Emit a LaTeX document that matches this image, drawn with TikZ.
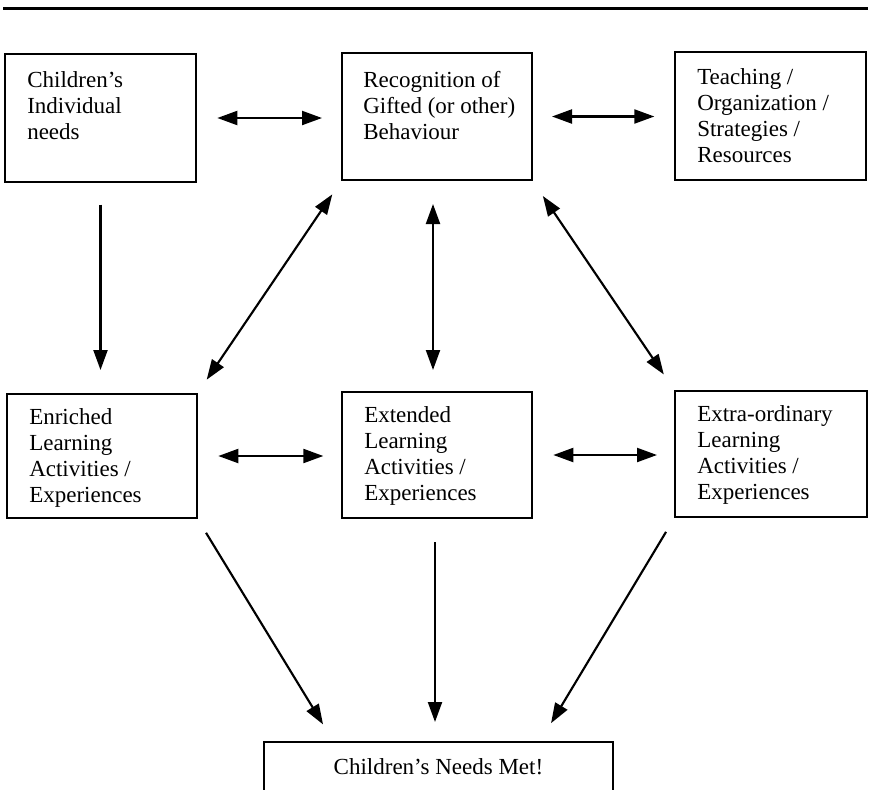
\documentclass[tikz,border=0pt]{standalone}
\usepackage{fontspec}
\setmainfont{Liberation Serif}
\usetikzlibrary{arrows.meta,calc}

\begin{document}
\begin{tikzpicture}[
  x=0.75pt, y=-0.75pt,
  box/.style={draw, line width=1.6pt, inner sep=0pt, outer sep=0pt, anchor=north west},
  txt/.style={inner sep=0pt, anchor=base west,
              font=\fontsize{17.25}{19.6}\selectfont},
  tip/.tip={Triangle[length=15pt,width=10.5pt]},
  oneway/.style={line width=1.6pt, -tip},
  twoway/.style={line width=1.6pt, tip-tip},
]
  % page area
  \useasboundingbox (0,0) rectangle (871,789);
  \fill[white] (0,0) rectangle (871,789);
  \clip (0,0) rectangle (871,789);

  % rule across the top
  \coordinate (ruleL) at (3,8.5);
  \coordinate (ruleR) at (868,8.5);
  \draw[line width=1.8pt] (ruleL) -- (ruleR);

  % top row
  \node[box, minimum width=143.25pt, minimum height=96pt]   (needs)  at (5,54)   {};
  \node[box, minimum width=142.5pt,  minimum height=95.25pt] (recog) at (342,53) {};
  \node[box, minimum width=143.25pt, minimum height=96pt]   (teach)  at (675,52) {};

  \node[txt] (needsT) at (27,87)
    {\parbox[t]{130pt}{\raggedright Children’s\\Individual\\needs}};
  \node[txt] (recogT) at (363,87)
    {\parbox[t]{130pt}{\raggedright Recognition of\\Gifted (or other)\\Behaviour}};
  \node[txt] (teachT) at (697,84)
    {\parbox[t]{130pt}{\raggedright Teaching /\\Organization /\\Strategies /\\Resources}};

  % middle row
  \node[box, minimum width=142.5pt, minimum height=93pt]   (enrich) at (7,394)   {};
  \node[box, minimum width=142.5pt, minimum height=94.5pt] (extend) at (342,392) {};
  \node[box, minimum width=144pt,   minimum height=94.5pt] (extra)  at (675,391) {};

  \node[txt] (enrichT) at (29,424)
    {\parbox[t]{130pt}{\raggedright Enriched\\Learning\\Activities /\\Experiences}};
  \node[txt] (extendT) at (364,422)
    {\parbox[t]{130pt}{\raggedright Extended\\Learning\\Activities /\\Experiences}};
  \node[txt] (extraT) at (697,421)
    {\parbox[t]{130pt}{\raggedright Extra-ordinary\\Learning\\Activities /\\Experiences}};

  % outcome box, running off the foot of the page
  \node[box, minimum width=261.75pt, minimum height=60pt] (met) at (264,742) {};
  \node[txt, anchor=base] (metT) at (438.5,774) {Children’s Needs Met!};

  % links along the rows
  \draw[twoway, shorten <=16pt, shorten >=15pt] (needs.east) -- (needs.east -| recog.west);
  \draw[twoway, shorten <=15pt, shorten >=15.5pt] (recog.east) -- (recog.east -| teach.west);
  \draw[twoway, shorten <=16pt, shorten >=14pt] (enrich.east) -- (enrich.east -| extend.west);
  \draw[twoway, shorten <=16pt, shorten >=13.5pt] (extend.east) -- (extend.east -| extra.west);

  % links between the rows
  \draw[oneway, shorten <=17pt, shorten >=18pt] (needs.south) -- (needs.south |- enrich.north);
  \draw[twoway, shorten <=13pt, shorten >=13pt] (recog.south west) -- (enrich.north east);
  \draw[twoway, shorten <=18pt, shorten >=16.5pt]
    ($(recog.south)+(-4,0)$) -- ($(recog.south |- extend.north)+(-4,0)$);
  \draw[twoway, shorten <=14.5pt, shorten >=15pt] (recog.south east) -- (extra.north west);

  % links into the outcome
  \draw[oneway, shorten <=13pt, shorten >=15.5pt]
    (enrich.south east) -- ($(met.north west)!0.2!(met.north east)$);
  \draw[oneway, shorten <=18pt, shorten >=15pt]
    ($(extend.south)+(-2,0)$) -- ($(extend.south |- met.north)+(-2,0)$);
  \draw[oneway, shorten <=13pt, shorten >=16.5pt]
    (extra.south west) -- ($(met.north west)!0.79!(met.north east)$);
\end{tikzpicture}
\end{document}
